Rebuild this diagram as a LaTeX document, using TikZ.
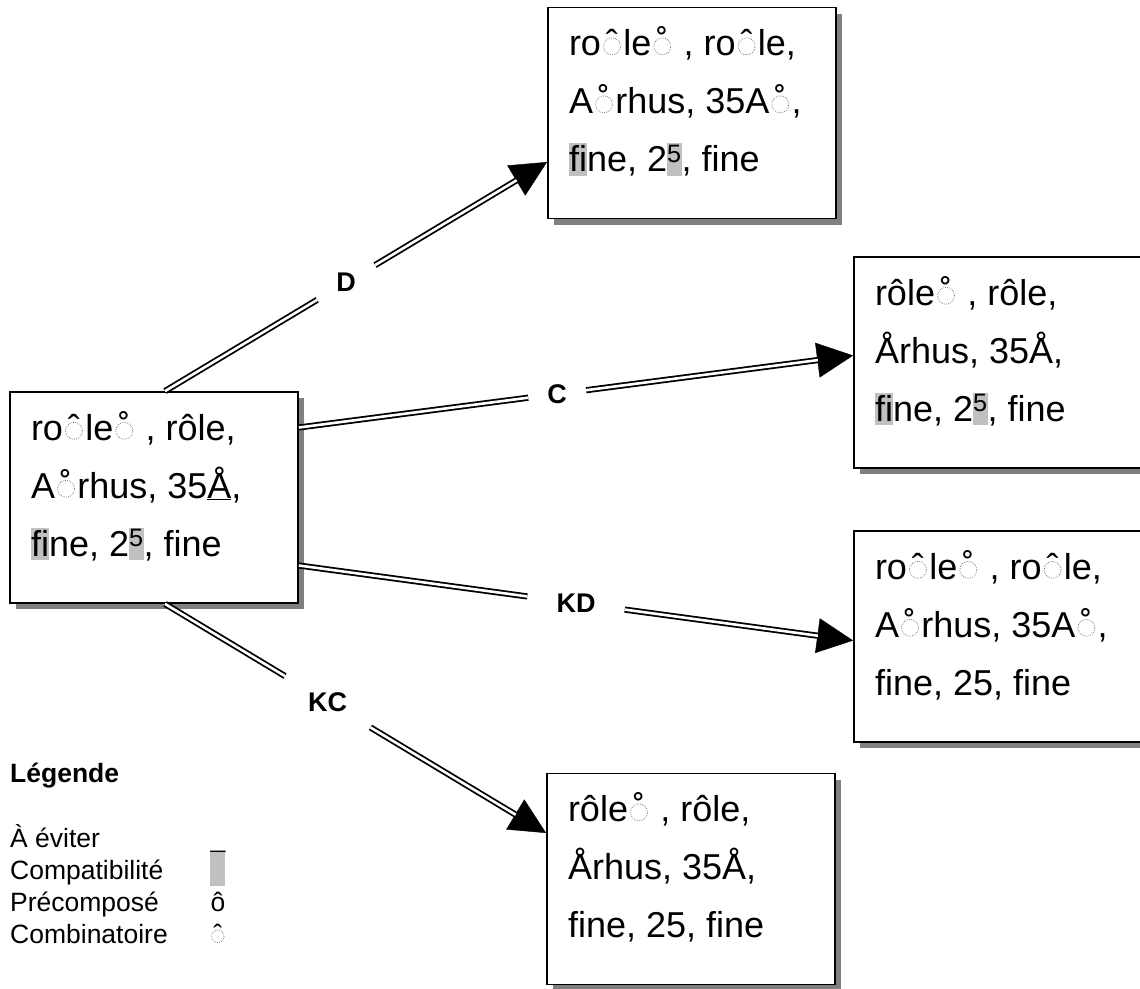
\documentclass[tikz,border=0pt]{standalone}
\usepackage{fontspec}
\setmainfont{Liberation Sans}[Ligatures=NoCommon]
\usepackage{graphicx}
\usetikzlibrary{shadows,arrows.meta,calc}
\definecolor{hlgray}{RGB}{192,192,192}
\definecolor{shgray}{RGB}{128,128,128}
\newcommand\dcirc{\tikz[baseline=0pt]\draw[black!60, line width=0.7pt, dash pattern=on 0.7pt off 1.2pt] (0pt,0.255em) circle[radius=0.235em];}
\newcommand\cmb[1]{\kern0.06em\relax\ooalign{\dcirc\cr\hfil#1\hfil\cr}\kern0.07em\relax}
\newcommand\hl[1]{{\setlength{\fboxsep}{0pt}\colorbox{hlgray}{\rule[-0.12em]{0pt}{0.9em}#1}}}
\newcommand\boxtext[3]{\parbox[t][211pt][t]{246pt}{\rule{0pt}{48pt}#1\\#2\\#3}}
\tikzset{
  box/.style={draw, line width=1.8pt, fill=white, inner xsep=21pt, inner ysep=0pt,
    drop shadow={shadow xshift=6pt, shadow yshift=-6pt, fill=shgray, opacity=1},
    font=\fontsize{36}{58}\selectfont},
  dbl/.style={draw, line width=1.8pt, double=white, double distance=2.6pt},
  head/.style={line width=0.4pt, -{Triangle[length=36pt,width=35pt]}},
  lab/.style={inner ysep=14pt, font=\fontsize{27}{30}\selectfont\bfseries},
  leg/.style={anchor=base west, inner sep=0pt, font=\fontsize{26.5}{30}\selectfont},
}
\begin{document}
\begin{tikzpicture}[x=1pt,y=-1pt]
\useasboundingbox (0,0) rectangle (1140,988);
\fill[white] (0,0) rectangle (1140,988);

% boxes
\node[box] (S) at (154,497.5) {\boxtext
  {ro\cmb{ˆ}le\cmb{˚} , rôle,}
  {A\cmb{˚}rhus, 35\underline{Å},}
  {\hl{ﬁ}ne, 2\hl{\smash{\textsuperscript{5}}}, fine}};
\node[box] (D) at (692,113) {\boxtext
  {ro\cmb{ˆ}le\cmb{˚} , ro\cmb{ˆ}le,}
  {A\cmb{˚}rhus, 35A\cmb{˚},}
  {\hl{ﬁ}ne, 2\hl{\smash{\textsuperscript{5}}}, fine}};
\node[box] (C) at (998,362.5) {\boxtext
  {rôle\cmb{˚} , rôle,}
  {Århus, 35Å,}
  {\hl{ﬁ}ne, 2\hl{\smash{\textsuperscript{5}}}, fine}};
\node[box] (KD) at (998,636.5) {\boxtext
  {ro\cmb{ˆ}le\cmb{˚} , ro\cmb{ˆ}le,}
  {A\cmb{˚}rhus, 35A\cmb{˚},}
  {fine, 25, fine}};
\node[box] (KC) at (691,879) {\boxtext
  {rôle\cmb{˚} , rôle,}
  {Århus, 35Å,}
  {fine, 25, fine}};

% connector end points
\coordinate (sD) at ([xshift=11pt]S.north);
\coordinate (tD) at ([yshift=-49pt]D.west);
\coordinate (sC) at ([yshift=70pt]S.east);
\coordinate (tC) at ([yshift=7pt]C.west);
\coordinate (sKD) at ([yshift=-68pt]S.east);
\coordinate (tKD) at ([yshift=-4pt]KD.west);
\coordinate (sKC) at ([xshift=11pt]S.south);
\coordinate (tKC) at ([yshift=46pt]KC.west);

% labels
\path (sD) -- node[lab, inner xsep=19pt, pos=0.474] (lD) {D} (tD);
\path (sC) -- node[lab, inner xsep=19pt, pos=0.466] (lC) {C} (tC);
\path (sKD) -- node[lab, inner xsep=29pt, pos=0.5] (lKD) {KD} (tKD);
\path (sKC) -- node[lab, inner xsep=23pt, inner ysep=16pt, pos=0.427] (lKC) {KC} (tKC);

% connectors
\foreach \s/\l/\t in {sD/lD/tD, sC/lC/tC, sKD/lKD/tKD, sKC/lKC/tKC}{
  \draw[dbl] (\s) -- (\l);
  \draw[head] ($(\t)!37pt!(\l)$) -- (\t);
  \draw[dbl, shorten >=35.5pt] (\l) -- (\t);
}

% legend
\node[leg, font=\fontsize{26.5}{30}\selectfont\bfseries] (Lg) at (10,782) {Légende};
\node[leg] (L1) at (10,847) {À éviter};
\node[leg] (L2) at (10,879) {Compatibilité};
\node[leg] (L3) at (10,911) {Précomposé};
\node[leg] (L4) at (10,943) {Combinatoire};
\node[leg, anchor=base] (M1) at (218,847) {\_};
\node[leg] (M2) at (210,879) {\textcolor{hlgray}{\rule[-7pt]{15pt}{33pt}}};
\node[leg, anchor=base] (M3) at (218,911) {ô};
\node[leg, anchor=base] (M4) at (218,943) {\cmb{ˆ}};
\end{tikzpicture}
\end{document}
